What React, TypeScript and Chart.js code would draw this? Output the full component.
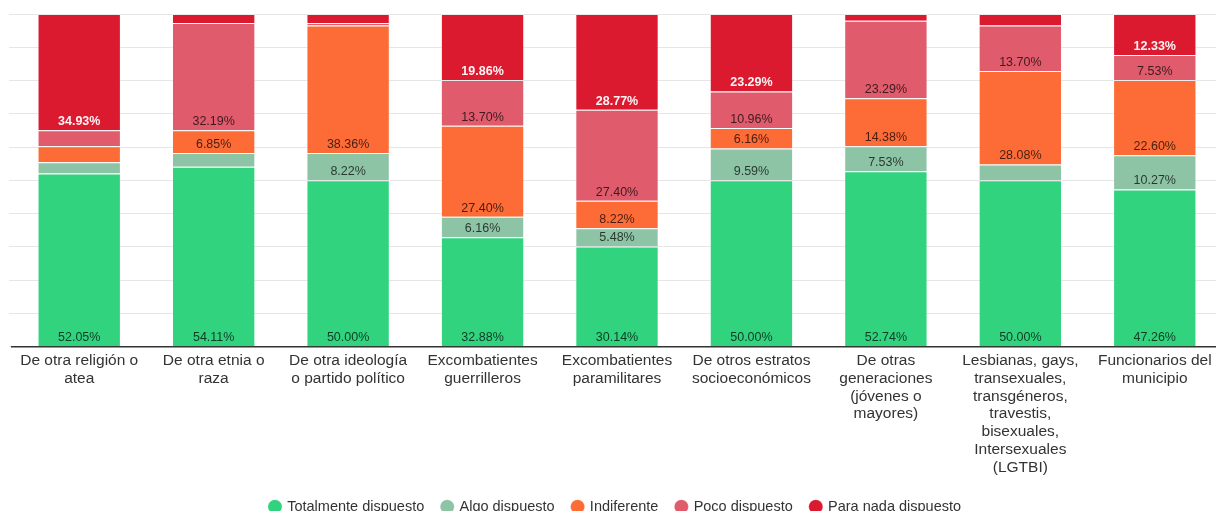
import React, { useEffect, useRef } from "react";
import { Chart, registerables } from "chart.js";

Chart.register(...registerables);

const categories: string[][] = [
  ["De otra religión o", "atea"],
  ["De otra etnia o", "raza"],
  ["De otra ideología", "o partido político"],
  ["Excombatientes", "guerrilleros"],
  ["Excombatientes", "paramilitares"],
  ["De otros estratos", "socioeconómicos"],
  ["De otras", "generaciones", "(jóvenes o", "mayores)"],
  ["Lesbianas, gays,", "transexuales,", "transgéneros,", "travestis,", "bisexuales,", "Intersexuales", "(LGTBI)"],
  ["Funcionarios del", "municipio"],
];

const seriesNames = ["Totalmente dispuesto", "Algo dispuesto", "Indiferente", "Poco dispuesto", "Para nada dispuesto"];

const totalmente = [52.05, 54.11, 50.0, 32.88, 30.14, 50.0, 52.74, 50.0, 47.26];
const algo = [3.42, 4.11, 8.22, 6.16, 5.48, 9.59, 7.53, 4.79, 10.27];
const indiferente = [4.79, 6.85, 38.36, 27.4, 8.22, 6.16, 14.38, 28.08, 22.6];
const poco = [4.79, 32.19, 0.68, 13.7, 27.4, 10.96, 23.29, 13.7, 7.53];
const paraNada = [34.93, 2.74, 2.74, 19.86, 28.77, 23.29, 2.06, 3.42, 12.33];

const colors = ["#31d37f", "#8ec4a6", "#fd6b37", "#e05b6b", "#dc1a2f"];

const FONT = "'Liberation Sans', Arial, sans-serif";

const labelPlugin = {
  id: "segLabels",
  afterDatasetsDraw(chart: any) {
    const ctx = chart.ctx;
    ctx.save();
    ctx.textAlign = "center";
    ctx.textBaseline = "middle";
    chart.data.datasets.forEach((ds: any, i: number) => {
      const meta = chart.getDatasetMeta(i);
      if (meta.hidden) return;
      meta.data.forEach((bar: any, j: number) => {
        const v = ds.data[j];
        if (v < 5) return;
        const white = i === 4;
        ctx.font = (white ? "bold " : "") + "12.5px " + FONT;
        ctx.fillStyle = white ? "rgba(255,255,255,0.95)" : "rgba(0,0,0,0.72)";
        ctx.fillText(v.toFixed(2) + "%", bar.x, bar.base - 8.5);
      });
    });
    ctx.restore();
  },
};

export default function App() {
  const ref = useRef<HTMLCanvasElement | null>(null);
  useEffect(() => {
    if (!ref.current) return;
    const data = [totalmente, algo, indiferente, poco, paraNada];
    const chart = new Chart(ref.current, {
      type: "bar",
      data: {
        labels: categories,
        datasets: seriesNames.map((name, i) => ({
          label: name,
          data: data[i],
          backgroundColor: colors[i],
          borderColor: "rgba(255,255,255,0.22)",
          borderWidth: 1,
          barPercentage: 0.62,
          categoryPercentage: 1,
        })),
      },
      options: {
        animation: false,
        responsive: true,
        maintainAspectRatio: false,
        layout: { padding: { left: 9, right: 8, top: 14, bottom: 0 } },
        scales: {
          x: {
            stacked: true,
            grid: { display: false, drawTicks: false },
            border: { display: true, color: "#333", width: 1.5 },
            ticks: {
              color: "#333",
              padding: 5,
              maxRotation: 0,
              autoSkip: false,
              font: { family: FONT, size: 15.5, lineHeight: 1.15 },
            },
          },
          y: {
            stacked: true,
            min: 0,
            max: 100,
            ticks: { display: false, stepSize: 10 },
            grid: { color: "#e6e6e6", lineWidth: 1, drawTicks: true, tickLength: 3 },
            border: { display: false },
          },
        },
        plugins: {
          legend: {
            position: "bottom",
            labels: {
              usePointStyle: true,
              pointStyle: "circle",
              boxWidth: 10,
              boxHeight: 10,
              padding: 18,
              color: "#333",
              font: { family: FONT, size: 14.5 },
            },
          },
          tooltip: { enabled: false },
        },
      },
      plugins: [labelPlugin],
    });
    return () => chart.destroy();
  }, []);
  return (
    <div style={{ position: "fixed", left: 0, top: 0, width: 1216, height: 511, overflow: "hidden", background: "#fff" }}>
      <div style={{ position: "absolute", left: 0, top: 0, width: 1230, height: 524 }}>
        <canvas ref={ref} />
      </div>
    </div>
  );
}
